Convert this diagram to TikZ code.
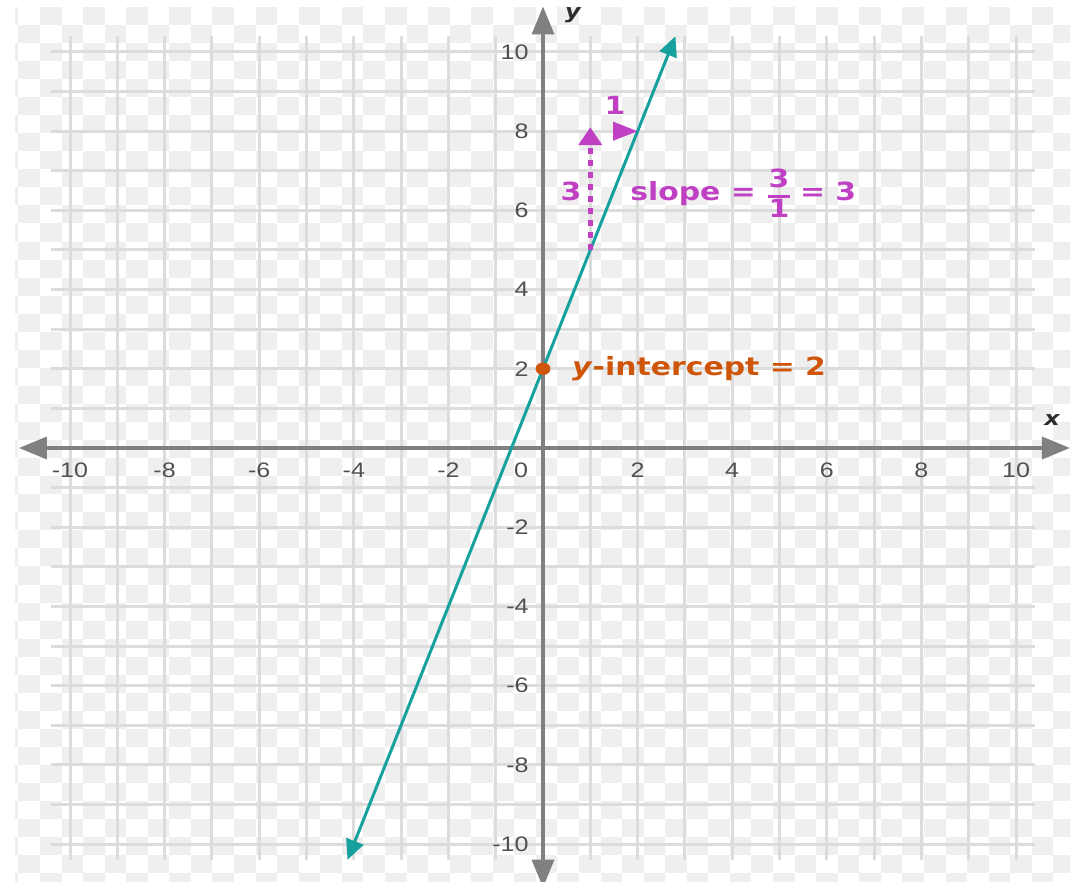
\documentclass[tikz,border=0pt]{standalone}
\usepackage{fontspec}
\setmainfont{DejaVu Sans}
\newfontfamily\tickfont{Liberation Sans}
\usetikzlibrary{arrows.meta}
\definecolor{teal1}{RGB}{22,160,158}
\definecolor{mag}{RGB}{192,64,196}
\definecolor{ora}{RGB}{207,85,10}
\definecolor{axisgray}{RGB}{128,128,128}
\definecolor{gridgray}{RGB}{220,220,220}
\definecolor{checkgray}{RGB}{239,239,239}
\definecolor{ticktext}{RGB}{80,80,80}
\definecolor{axlabel}{RGB}{45,45,45}
\tikzset{
  gridline/.style={gridgray, line width=3pt},
  axisline/.style={axisgray, line width=3.5pt},
  axtip/.style={-{Triangle[length=28pt,width=22pt]}},
  ticklab/.style={font=\tickfont\fontsize{21}{24}\selectfont, text=ticktext, xscale=1.194, inner sep=0pt},
  boldlab/.style={font=\bfseries\fontsize{25}{28}\selectfont, xscale=1.194, inner sep=0pt},
  axislab/.style={font=\bfseries\itshape\fontsize{20}{24}\selectfont, text=axlabel, xscale=1.194, inner sep=0pt},
  lineline/.style={teal1, line width=3pt, {Triangle[length=20pt,width=18pt]}-{Triangle[length=20pt,width=18pt]}},
  magarrow/.style={mag, line width=5.5pt, dash pattern=on 6pt off 6pt, -{Triangle[length=18pt,width=23pt]}},
}
\begin{document}
\begin{tikzpicture}[x=1pt,y=-1pt]
\useasboundingbox (0,0) rectangle (1074,882);
\fill[white] (0,0) rectangle (1074,882);
% checkerboard background
\begin{scope}
\clip (15,6.9) rectangle (1070,882);
\foreach \r in {0,...,48}{
  \pgfmathtruncatemacro\cs{mod(\r+1,2)}
  \foreach \k in {-1,...,24}{
    \fill[checkgray] ({18.44+21.56*(\cs+2*\k)},{6.9+18.05*\r}) rectangle ++(21.56,18.05);
  }
}
\end{scope}
\begin{scope}[shift={(543pt,-448pt)}, x=47.3pt, y=39.6pt]
  % grid
  \foreach \i in {-10,...,10}{
    \draw[gridline] (\i,-10.4) -- (\i,10.4);
    \draw[gridline] (-10.4,\i) -- (10.4,\i);
  }
  % axes
  \coordinate (xL) at (-11.08,0);
  \coordinate (xR) at (11.14,0);
  \coordinate (yT) at (0,11.15);
  \coordinate (yB) at (0,-11.1);
  \coordinate (O) at (0,0);
  \draw[axisline, axtip] (O) -- (xL);
  \draw[axisline, axtip] (O) -- (xR);
  \draw[axisline, axtip] (O) -- (yT);
  \draw[axisline, axtip] (O) -- (yB);
  % tick labels
  \foreach \i in {-10,-8,-6,-4,-2,2,4,6,8,10}{
    \node[ticklab] (tx\i) at (\i,-0.556) {\i};
    \node[ticklab, anchor=east] (ty\i) at (-0.3,\i) {\i};
  }
  \node[ticklab] (t0) at (-0.465,-0.556) {0};
  % axis labels
  \node[axislab] (ylab) at (0.63,10.93) {y};
  \node[axislab] (xlab) at (10.76,0.71) {x};
  % the line y = 3x + 2
  \coordinate (lb) at (-4.133,-10.4);
  \coordinate (lt) at (2.8,10.4);
  \draw[lineline] (lb) -- (lt);
  % slope triangle
  \coordinate (p5) at (1,5);
  \coordinate (p8) at (1,8.1);
  \draw[magarrow] (p5) -- (p8);
  \coordinate (h1) at (1.45,8);
  \coordinate (h2) at (1.99,8);
  \draw[mag, line width=0.1pt, dash pattern=on 0pt off 100pt, -{Triangle[length=24pt,width=19pt]}] (h1) -- (h2);
  \node[boldlab, text=mag, anchor=base] (lab3) at (0.59,6.26) {3};
  \node[boldlab, text=mag, anchor=base] (lab1) at (1.52,8.41) {1};
  \node[boldlab, text=mag, anchor=base west] (slope) at (1.84,6.26) {slope =};
  \node[boldlab, text=mag, anchor=base] (num) at (4.99,6.59) {3};
  \node[boldlab, text=mag, anchor=base] (den) at (4.99,5.81) {1};
  \coordinate (barL) at (4.75,6.34);
  \coordinate (barR) at (5.23,6.34);
  \draw[mag, line width=3pt] (barL) -- (barR);
  \node[boldlab, text=mag, anchor=base west] (eq3) at (5.43,6.26) {= 3};
  % y-intercept
  \node[circle, fill=ora, inner sep=0pt, minimum size=12.5pt, xscale=1.194] (yint) at (0,2) {};
  \node[boldlab, text=ora, anchor=base west] (yintlab) at (0.613,1.84) {\textit{y}-intercept = 2};
\end{scope}
\end{tikzpicture}
\end{document}
